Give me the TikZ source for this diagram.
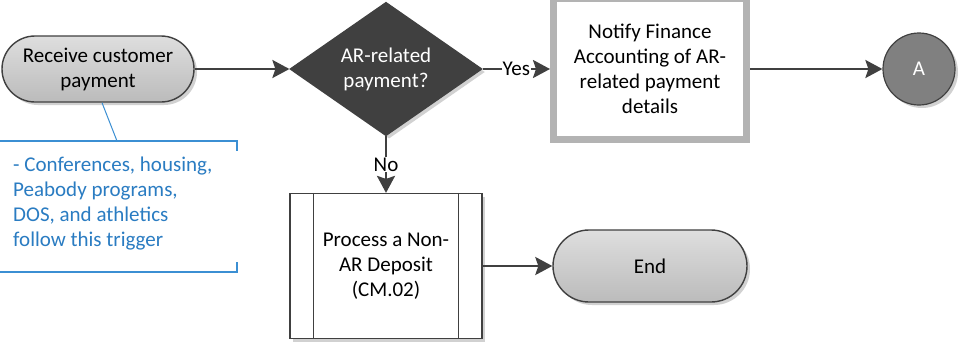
\documentclass[tikz,border=0pt]{standalone}
\usepackage{fontspec}
\setmainfont{Carlito}
\usetikzlibrary{shapes.geometric,shapes.misc,arrows.meta,shadows}
\definecolor{edge}{HTML}{404040}
\definecolor{termfill}{HTML}{D0D0D0}
\definecolor{darkfill}{HTML}{404040}
\definecolor{notifyborder}{HTML}{B3B3B3}
\definecolor{circfill}{HTML}{808080}
\definecolor{annblue}{HTML}{3B8FD3}
\definecolor{anntext}{HTML}{2A7CC2}
\begin{document}
\begin{tikzpicture}[x=1pt,y=-1pt,
  font=\fontsize{21}{25}\selectfont,
  shade/.style={drop shadow={opacity=0.18,shadow xshift=3pt,shadow yshift=-3pt,fill=black}},
  term/.style={rounded rectangle, draw=edge, line width=1.4pt, top color=termfill!70!white, bottom color=termfill!90!black, align=center, inner sep=0pt, shade},
  decision/.style={diamond, draw=edge, line width=1.2pt, fill=darkfill, text=white, align=center, inner sep=0pt, minimum width=192pt, minimum height=97pt, shade},
  taskbox/.style={rectangle, draw=notifyborder, line width=7pt, fill=white, align=center, inner sep=0pt, shade},
  subproc/.style={rectangle, draw=edge, line width=1.2pt, fill=white, align=center, inner sep=0pt, shade},
  conn/.style={draw=edge, line width=2.4pt, -{Stealth[length=17pt,width=18pt,inset=3pt]}},
  lbl/.style={fill=white, inner sep=1pt}
]
\useasboundingbox (0,0) rectangle (962,349);
\fill[white] (0,0) rectangle (962,349);

% nodes
\node[term, minimum width=192pt, minimum height=66pt] (start) at (98,69) {Receive customer\\payment};
\node[decision] (dec) at (386,69) {AR-related\\payment?};
\node[taskbox, minimum width=193pt, minimum height=141pt] (notify) at (650,69) {Notify Finance\\Accounting of AR-\\related payment\\details};
\node[circle, draw=edge, line width=1.2pt, fill=circfill, text=white, minimum size=72pt, inner sep=0pt, shade] (A) at (919,69) {A};
\node[subproc, minimum width=192pt, minimum height=145pt] (proc) at (386,266) {Process a Non-\\AR Deposit\\(CM.02)};
\draw[edge, line width=1.2pt] ([xshift=24pt]proc.north west) -- ([xshift=24pt]proc.south west);
\draw[edge, line width=1.2pt] ([xshift=-24pt]proc.north east) -- ([xshift=-24pt]proc.south east);
\node[term, minimum width=194pt, minimum height=72pt] (end) at (650,266) {End};

% annotation
\coordinate (annTL) at (-2,141);
\coordinate (annTR) at (237,141);
\coordinate (annBL) at (-2,272);
\coordinate (annBR) at (237,272);
\coordinate (annHook) at (117,141);
\draw[annblue, line width=1.8pt] (annTL) -- (annTR) -- ++(0,10);
\draw[annblue, line width=1.8pt] (annBL) -- (annBR) -- ++(0,-10);
\draw[annblue, line width=1pt] (start.south) ++(4,0) coordinate (startHook) -- (annHook);
\node[anchor=north west, align=left, text=anntext, inner sep=0pt] (anntxt) at (13,157) {- Conferences, housing,\\Peabody programs,\\DOS, and athletics\\follow this trigger};

% connectors
\draw[conn] (start.east) -- (dec.west);
\draw[conn] (dec.east) -- node[lbl] {Yes} (notify.west);
\draw[conn] (notify.east) -- (A.west);
\draw[conn] (dec.south) -- node[lbl] {No} (proc.north);
\draw[conn] (proc.east) -- (end.west);
\end{tikzpicture}
\end{document}
